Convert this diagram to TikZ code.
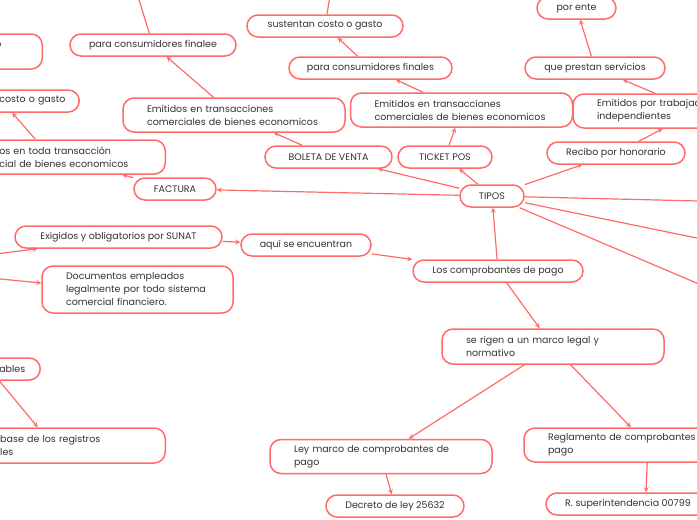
\documentclass[tikz,border=0pt]{standalone}
\usepackage{fontspec}
\setmainfont{Poppins}
\usepackage{tikz}
\usetikzlibrary{arrows}
\definecolor{mmline}{RGB}{255,107,104}
\definecolor{mmtext}{RGB}{51,51,51}
\tikzset{
	box/.style={draw=mmline,line width=1.5pt,rounded corners=11pt,fill=white,text=mmtext,font=\fontsize{9.5}{13}\selectfont},
	one/.style={box,minimum height=22pt,inner xsep=0pt},
	two/.style={box,align=left,text width=174pt,inner xsep=24pt,minimum height=34pt},
	cut/.style={box,align=left,anchor=east},
	link/.style={mmline,line width=1.2pt,->},
}
\begin{document}
\begin{tikzpicture}[x=1pt,y=-1pt,>=stealth]
	\clip(0,0)rectangle(697,520);
	\coordinate(up1)at(135,-13);\coordinate(up2)at(331,-10);
	\coordinate(r1)at(760,202.5);\coordinate(r2)at(760,251);\coordinate(r3)at(760,310);
	\coordinate(l1)at(-37,258);\coordinate(l2)at(-40,275);
	\node[one,minimum width=64pt](tipos)at(492,196){TIPOS};
	\node[one,minimum width=82pt](factura)at(175,189){FACTURA};
	\node[one,minimum width=127pt](boleta)at(328.5,157){BOLETA DE VENTA};
	\node[one,minimum width=94pt](ticket)at(445,157){TICKET POS};
	\node[one,minimum width=138pt](recibo)at(616,153){Recibo por honorario};
	\node[two](emitB)at(234,115){Emitidos en transaccíones\\comerciales de bienes economicos};
	\node[two](emitT)at(461.5,110){Emitidos en transaccíones\\comerciales de bienes economicos};
	\node[two,text width=200pt](emitR)at(697,111){Emitidos por trabajadores\\independientes};
	\node[one,minimum width=166pt](consB)at(153,45){para consumidores finalee};
	\node[one,minimum width=163pt](consT)at(370.5,68){para consumidores finales};
	\node[one,minimum width=156pt](sustT)at(325,26){sustentan costo o gasto};
	\node[one,minimum width=140pt](prestan)at(595,68){que prestan servicios};
	\node[one,minimum width=79pt](ente)at(576.5,8){por ente};
	\node[cut,text width=23pt,inner xsep=24pt,minimum height=35pt](gasto)at(43,51.5){o\\\mbox{}};
	\node[cut,text width=68pt,inner xsep=12pt,minimum height=22pt](costo)at(80,101){costo o gasto};
	\node[cut,text width=142pt,inner xsep=24pt,minimum height=34pt](trans)at(166,157){os en toda transacción\\cial de bienes economicos};
	\node[one,minimum width=170pt](los)at(498,271){Los comprobantes de pago};
	\node[one,minimum width=130pt](aqui)at(306,245){aquí se encuentran};
	\node[one,minimum width=207pt](exig)at(118.5,237){Exigidos y obligatorios por SUNAT};
	\node[two,text width=143pt,minimum height=47pt](doc)at(137.5,289.5){Documentos empleados\\legalmente por todo sistema\\comercial financiero.};
	\node[cut,text width=24pt,inner xsep=17pt,minimum height=22pt](ables)at(41,369){ables};
	\node[cut,text width=141pt,inner xsep=24pt,minimum height=35pt](base)at(166,445.5){base de los registros\\les};
	\node[two,minimum height=35pt](rigen)at(553,346.5){se rigen a un marco legal y\\normativo};
	\node[two](ley)at(381,456.5){Ley marco de comprobantes de\\pago};
	\node[two,text width=200pt](regla)at(648,445){Reglamento de comprobantes de\\pago};
	\node[one,minimum width=138pt](decreto)at(395,506){Decreto de ley 25632};
	\node[one,minimum width=164pt](rsup)at(628,504){R. superintendencia 00799};
	\draw[link](tipos)--(factura);
	\draw[link](tipos)--(boleta);
	\draw[link](tipos)--(ticket);
	\draw[link](tipos)--(recibo);
	\draw[link](tipos)--(r1);
	\draw[link](tipos)--(r2);
	\draw[link](tipos)--(r3);
	\draw[link](boleta)--(emitB);
	\draw[link](emitB)--(consB);
	\draw[link](consB)--(up1);
	\draw[link](ticket)--(emitT);
	\draw[link](emitT)--(consT);
	\draw[link](consT)--(sustT);
	\draw[link](sustT)--(up2);
	\draw[link](recibo)--(emitR);
	\draw[link](emitR)--(prestan);
	\draw[link](prestan)--(ente);
	\draw[link](factura)--([xshift=52pt]trans.south);
	\draw[link]([xshift=-35pt]trans.north)--([xshift=-21pt]costo.south);
	\draw[link](los)--(tipos);
	\draw[link](aqui)--(los);
	\draw[link](exig)--(aqui);
	\draw[link](l1)--([xshift=-81pt]exig.south);
	\draw[link](l2)--([yshift=6.5pt]doc.west);
	\draw[link]([xshift=-12pt]ables.south)--([xshift=-33pt]base.north);
	\draw[link](los)--(rigen);
	\draw[link](rigen)--(ley);
	\draw[link](rigen)--(regla);
	\draw[link](ley)--(decreto);
	\draw[link](regla)--([xshift=18pt]rsup.north);
\end{tikzpicture}
\end{document}
